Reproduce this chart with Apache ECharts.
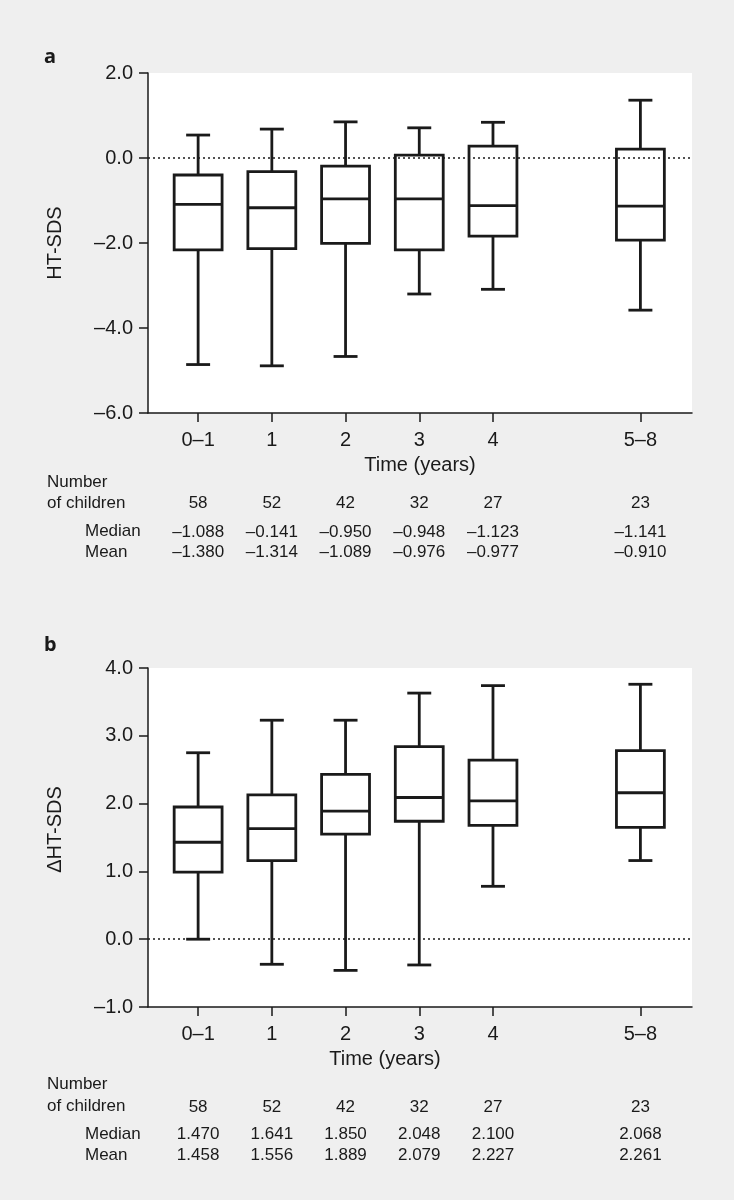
<!DOCTYPE html>
<html>
<head>
<meta charset="utf-8">
<title>HT-SDS over time</title>
<script src="https://cdn.jsdelivr.net/npm/echarts@6/dist/echarts.min.js"></script>
<style>
html, body { margin: 0; padding: 0; background: #efefef; }
#chart { width: 734px; height: 1200px; }
</style>
</head>
<body>
<div id="chart"></div>
<script>
// time groups, and where each sits on the x scale (5–8 skips one slot)
const categories = ['0–1', '1', '2', '3', '4', '5–8'];
const catPos = [0, 1, 2, 3, 4, 6];
const nChildren = [58, 52, 42, 32, 27, 23];

// panel a: HT-SDS
const htMin = [-4.86, -4.89, -4.67, -3.20, -3.09, -3.58];
const htQ1 = [-2.16, -2.13, -2.01, -2.16, -1.84, -1.93];
const htMed = [-1.09, -1.17, -0.96, -0.96, -1.12, -1.13];
const htQ3 = [-0.40, -0.32, -0.19, 0.07, 0.28, 0.21];
const htMax = [0.54, 0.68, 0.85, 0.71, 0.84, 1.36];
const htMedianTxt = [-1.088, -0.141, -0.950, -0.948, -1.123, -1.141];
const htMeanTxt = [-1.380, -1.314, -1.089, -0.976, -0.977, -0.910];

// panel b: delta HT-SDS
const dMin = [0.00, -0.37, -0.46, -0.38, 0.78, 1.16];
const dQ1 = [0.99, 1.16, 1.55, 1.74, 1.68, 1.65];
const dMed = [1.43, 1.63, 1.89, 2.09, 2.04, 2.16];
const dQ3 = [1.95, 2.13, 2.43, 2.84, 2.64, 2.78];
const dMax = [2.75, 3.23, 3.23, 3.63, 3.74, 3.76];
const dMedianTxt = [1.470, 1.641, 1.850, 2.048, 2.100, 2.068];
const dMeanTxt = [1.458, 1.556, 1.889, 2.079, 2.227, 2.261];

const INK = '#1a1a1a';
const FONT = "'Liberation Sans', Arial, sans-serif";
const X_MIN = -0.68, X_MAX = 6.70;
const BOX_W = 0.65;

function fmt(v, d) { return v.toFixed(d).replace('-', '\u2013'); }

function rows(lo, q1, md, q3, hi) {
  return catPos.map((x, i) => [x, lo[i], q1[i], md[i], q3[i], hi[i]]);
}

function renderBox(params, api) {
  const x = api.value(0);
  const lo = api.coord([x, api.value(1)]);
  const q1 = api.coord([x, api.value(2)]);
  const md = api.coord([x, api.value(3)]);
  const q3 = api.coord([x, api.value(4)]);
  const hi = api.coord([x, api.value(5)]);
  const half = api.size([BOX_W, 0])[0] / 2;
  const cx = md[0];
  const st = { stroke: INK, lineWidth: 2.8, fill: 'none' };
  const seg = (x1, y1, x2, y2) => ({ type: 'line', shape: { x1, y1, x2, y2 }, style: st });
  return {
    type: 'group',
    children: [
      { type: 'rect', shape: { x: cx - half, y: q3[1], width: half * 2, height: q1[1] - q3[1] }, style: st },
      seg(cx - half, md[1], cx + half, md[1]),
      seg(cx, q3[1], cx, hi[1]),
      seg(cx, q1[1], cx, lo[1]),
      seg(cx - half / 2, hi[1], cx + half / 2, hi[1]),
      seg(cx - half / 2, lo[1], cx + half / 2, lo[1])
    ]
  };
}

const panels = [
  {
    tag: 'a', top: 73, height: 340, min: -6, max: 2, step: 2, yName: 'HT-SDS',
    data: rows(htMin, htQ1, htMed, htQ3, htMax),
    medTxt: htMedianTxt, meanTxt: htMeanTxt,
    tableOffsets: [81.5, 110.5, 130.5], headY: [482, 503, 531, 552], tagY: 57,
    nameShift: 0, yNameShift: 0
  },
  {
    tag: 'b', top: 668, height: 339, min: -1, max: 4, step: 1, yName: '\u0394HT-SDS',
    data: rows(dMin, dQ1, dMed, dQ3, dMax),
    medTxt: dMedianTxt, meanTxt: dMeanTxt,
    tableOffsets: [91.5, 118.5, 139.5], headY: [1084, 1106, 1134, 1155], tagY: 645,
    nameShift: 70, yNameShift: 16
  }
];

const grid = [], xAxis = [], yAxis = [], series = [], graphic = [];

panels.forEach((p, i) => {
  grid.push({
    left: 148, width: 544, top: p.top, height: p.height,
    show: true, backgroundColor: '#fff', borderWidth: 0
  });

  xAxis.push({
    type: 'value', gridIndex: i, min: X_MIN, max: X_MAX, position: 'bottom',
    axisLine: { show: true, onZero: false, lineStyle: { color: INK, width: 1.5 } },
    axisTick: { show: true, customValues: catPos, length: 9, lineStyle: { color: INK, width: 1.5 } },
    axisLabel: {
      customValues: catPos, formatter: v => categories[catPos.indexOf(v)],
      margin: 17, fontSize: 20, color: INK, fontFamily: FONT
    },
    splitLine: { show: false },
    name: 'Time (years)', nameLocation: 'middle', nameGap: 42,
    nameTextStyle: { fontSize: 20, color: INK, fontFamily: FONT, padding: [0, p.nameShift, 0, 0] }
  });

  // table rows under the axis: counts, medians, means
  const texts = [
    nChildren.map(String),
    p.medTxt.map(v => fmt(v, 3)),
    p.meanTxt.map(v => fmt(v, 3))
  ];
  texts.forEach((t, k) => {
    xAxis.push({
      type: 'value', gridIndex: i, min: X_MIN, max: X_MAX, position: 'bottom',
      offset: p.tableOffsets[k],
      axisLine: { show: false }, axisTick: { show: false }, splitLine: { show: false },
      axisLabel: {
        customValues: catPos, formatter: v => t[catPos.indexOf(v)],
        margin: 0, fontSize: 17, color: INK, fontFamily: FONT
      }
    });
  });

  yAxis.push({
    type: 'value', gridIndex: i, min: p.min, max: p.max, interval: p.step,
    axisLine: { show: true, onZero: false, lineStyle: { color: INK, width: 1.5 } },
    axisTick: { show: true, length: 9, lineStyle: { color: INK, width: 1.5 } },
    axisLabel: { formatter: v => fmt(v, 1), margin: 15, fontSize: 20, color: INK, fontFamily: FONT },
    splitLine: { show: false },
    name: p.yName, nameLocation: 'middle', nameGap: 83,
    nameTextStyle: { fontSize: 20, color: INK, fontFamily: FONT, padding: [0, 0, 0, p.yNameShift] }
  });

  series.push({
    type: 'custom', xAxisIndex: i * 4, yAxisIndex: i,
    data: p.data, renderItem: renderBox,
    encode: { x: 0, y: [1, 2, 3, 4, 5] },
    clip: false, silent: true,
    markLine: {
      silent: true, symbol: 'none', label: { show: false },
      lineStyle: { type: [2, 3], color: INK, width: 1.5 },
      data: [{ yAxis: 0 }]
    }
  });

  // panel letter and row headers
  graphic.push({
    type: 'text', x: 44, y: p.tagY,
    style: { text: p.tag, font: "bold 20px 'Noto Sans', sans-serif", fill: INK, verticalAlign: 'middle' }
  });
  const heads = [['Number', 47], ['of children', 47], ['Median', 85], ['Mean', 85]];
  heads.forEach((h, k) => {
    graphic.push({
      type: 'text', x: h[1], y: p.headY[k],
      style: { text: h[0], font: '17px ' + FONT, fill: INK, verticalAlign: 'middle' }
    });
  });
});

const chart = echarts.init(document.getElementById('chart'));
chart.setOption({
  backgroundColor: '#efefef',
  animation: false,
  grid, xAxis, yAxis, series, graphic
});
</script>
</body>
</html>
